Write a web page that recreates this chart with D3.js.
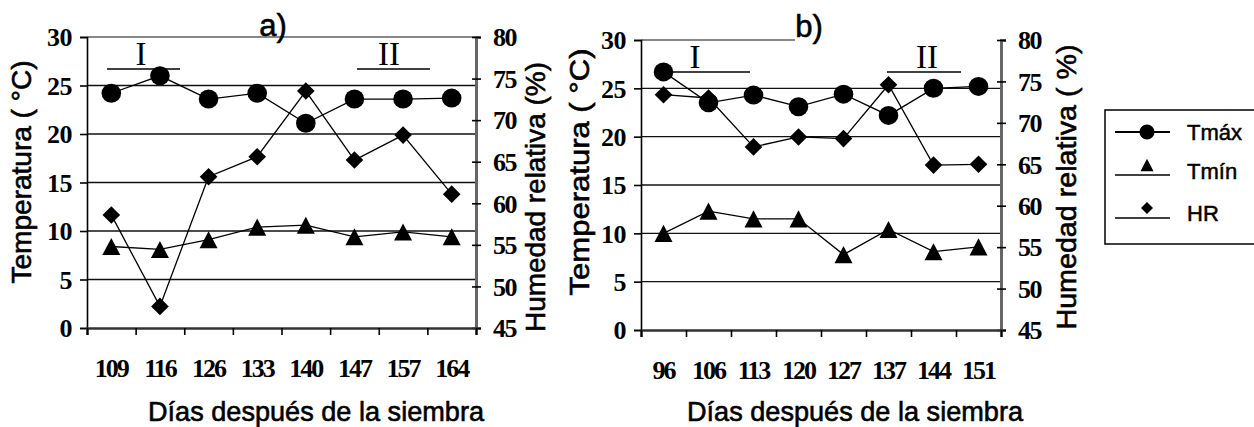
<!DOCTYPE html>
<html>
<head>
<meta charset="utf-8">
<script src="https://cdn.jsdelivr.net/npm/d3@7"></script>
<style>
  body { margin: 0; background: #fff; }
  svg { display: block; }
</style>
</head>
<body>
<div id="chart"></div>
<script>
// data
var daysA = ["109", "116", "126", "133", "140", "147", "157", "164"]
var tmaxA = [24.2, 26.0, 23.6, 24.2, 21.1, 23.6, 23.6, 23.7]
var tminA = [8.4, 8.1, 9.1, 10.4, 10.6, 9.4, 9.9, 9.4]
var hrA = [58.6, 47.6, 63.2, 65.6, 73.5, 65.2, 68.2, 61.1]

var daysB = ["96", "106", "113", "120", "127", "137", "144", "151"]
var tmaxB = [26.7, 23.5, 24.3, 23.1, 24.4, 22.2, 25.0, 25.2]
var tminB = [10.0, 12.3, 11.5, 11.5, 7.8, 10.4, 8.1, 8.6]
var hrB = [73.4, 73.0, 67.1, 68.3, 68.1, 74.6, 64.9, 65.0]

var tempTicks = [0, 5, 10, 15, 20, 25, 30]
var hrTicks = [45, 50, 55, 60, 65, 70, 75, 80]
var legendNames = ["Tmáx", "Tmín", "HR"]

var W = 1254, H = 427
var serif = "'Liberation Serif', 'Times New Roman', serif"
var sans = "'Liberation Sans', Arial, sans-serif"

var svg = d3.select("#chart").append("svg")
  .attr("width", W)
  .attr("height", H)

function diamond(r) {
  return "M0," + (-r) + "L" + r + ",0L0," + r + "L" + (-r) + ",0Z"
}
function triangle(s) {
  var h = s * 0.95
  return "M0," + (-h / 2) + "L" + (s / 2) + "," + (h / 2) + "L" + (-s / 2) + "," + (h / 2) + "Z"
}
// heavier look of the scanned sans text
function heavy(sel) {
  return sel.attr("stroke", "#000").attr("stroke-width", 0.6)
}

function drawPanel(p) {
  var g = svg.append("g")

  var x = d3.scaleBand().domain(p.cats).range([p.left, p.right])
  var xIdx = d3.scaleLinear().domain([0, p.cats.length]).range([p.left, p.right])
  var yT = d3.scaleLinear().domain([0, 30]).range([p.bottom, p.top])
  var yH = d3.scaleLinear().domain([45, 80]).range([p.bottom, p.top])
  var cx = function(d, i) { return x(p.cats[i]) + x.bandwidth() / 2 }

  // gridlines
  g.selectAll(".grid")
    .data(tempTicks.filter(function(t) { return t > 0 && t < 30 }))
    .enter().append("line")
    .attr("x1", p.left).attr("x2", p.right)
    .attr("y1", function(d) { return yT(d) }).attr("y2", function(d) { return yT(d) })
    .attr("stroke", "#111").attr("stroke-width", 1.4)

  // top border
  g.append("line")
    .attr("x1", p.left).attr("x2", p.topEnd)
    .attr("y1", p.top).attr("y2", p.top)
    .attr("stroke", "#111").attr("stroke-width", 1.2)

  // left axis
  var axL = g.append("g")
    .attr("transform", "translate(" + p.left + ",0)")
    .call(d3.axisLeft(yT).tickValues(tempTicks).tickSize(7).tickPadding(8))
  axL.select(".domain").attr("stroke-width", 1.6)
  axL.selectAll("line").attr("stroke-width", 1.6)
  axL.selectAll("text")
    .attr("font-family", serif).attr("font-weight", "bold")
    .attr("font-size", 26).attr("fill", "#000")
    .attr("letter-spacing", -0.5)
    .attr("dy", "0.34em")

  // right axis, ticks crossing
  var axR = g.append("g")
    .attr("transform", "translate(" + p.right + ",0)")
    .call(d3.axisRight(yH).tickValues(hrTicks).tickSize(5).tickPadding(12))
  axR.select(".domain").attr("stroke", "#666").attr("stroke-width", 3)
  axR.selectAll(".tick line").attr("x1", -4).attr("stroke-width", 1.6)
  axR.selectAll("text")
    .attr("font-family", serif).attr("font-weight", "bold")
    .attr("font-size", 26).attr("fill", "#000")
    .attr("letter-spacing", -1.5)
    .attr("dy", "0.34em")

  // bottom axis: ticks at band edges
  var axB = g.append("g")
    .attr("transform", "translate(0," + p.bottom + ")")
    .call(d3.axisBottom(xIdx).tickValues(d3.range(p.cats.length + 1)).tickSize(7).tickFormat(""))
  axB.select(".domain").attr("stroke", "#333").attr("stroke-width", 2.5)
  axB.selectAll("line").attr("stroke-width", 1.6)

  // category labels
  var axC = g.append("g")
    .attr("transform", "translate(0," + (p.bottom + 31) + ")")
    .call(d3.axisBottom(x).tickSize(0).tickPadding(0))
  axC.select(".domain").remove()
  axC.selectAll("text")
    .attr("font-family", serif).attr("font-weight", "bold")
    .attr("font-size", 26).attr("fill", "#000")
    .attr("letter-spacing", -2)

  // axis titles
  heavy(g.append("text")
    .attr("transform", "translate(" + p.yLabelX + "," + p.yLabelY + ") rotate(-90)")
    .attr("text-anchor", "middle")
    .attr("font-family", sans).attr("font-size", 28)
    .attr("textLength", p.yLabelLen).attr("lengthAdjust", "spacingAndGlyphs")
    .text(p.yLabel))
  heavy(g.append("text")
    .attr("transform", "translate(" + p.y2LabelX + "," + p.y2LabelY + ") rotate(-90)")
    .attr("text-anchor", "middle")
    .attr("font-family", sans).attr("font-size", 28)
    .attr("textLength", p.y2LabelLen).attr("lengthAdjust", "spacingAndGlyphs")
    .text(p.y2Label))
  heavy(g.append("text")
    .attr("x", p.xLabelX).attr("y", 421)
    .attr("text-anchor", "middle")
    .attr("font-family", sans).attr("font-size", 28)
    .attr("textLength", 336).attr("lengthAdjust", "spacingAndGlyphs")
    .text("Días después de la siembra"))

  // panel title
  heavy(g.append("text")
    .attr("x", p.titleX).attr("y", p.titleY)
    .attr("text-anchor", "middle")
    .attr("font-family", sans).attr("font-size", 31)
    .text(p.title))

  // period marks I and II
  p.periods.forEach(function(m) {
    g.append("line")
      .attr("x1", m.x1).attr("x2", m.x2)
      .attr("y1", m.y).attr("y2", m.y)
      .attr("stroke", "#000").attr("stroke-width", 1.6)
    g.append("text")
      .attr("x", m.tx).attr("y", m.y - 4)
      .attr("text-anchor", "middle")
      .attr("font-family", serif).attr("font-size", 33)
      .text(m.label)
  })

  var line = function(ys) {
    return d3.line()
      .x(function(d, i) { return cx(d, i) })
      .y(function(d) { return ys(d) })
  }

  // HR (secondary axis)
  g.append("path").datum(p.hr)
    .attr("d", line(yH)).attr("fill", "none")
    .attr("stroke", "#000").attr("stroke-width", 1.3)
  g.selectAll(".hr").data(p.hr).enter().append("path")
    .attr("transform", function(d, i) { return "translate(" + cx(d, i) + "," + yH(d) + ")" })
    .attr("d", diamond(8.8))

  // Tmin
  g.append("path").datum(p.tmin)
    .attr("d", line(yT)).attr("fill", "none")
    .attr("stroke", "#000").attr("stroke-width", 1.3)
  g.selectAll(".tmin").data(p.tmin).enter().append("path")
    .attr("transform", function(d, i) { return "translate(" + cx(d, i) + "," + yT(d) + ")" })
    .attr("d", triangle(18))

  // Tmax
  g.append("path").datum(p.tmax)
    .attr("d", line(yT)).attr("fill", "none")
    .attr("stroke", "#000").attr("stroke-width", 1.3)
  g.selectAll(".tmax").data(p.tmax).enter().append("ellipse")
    .attr("cx", cx).attr("cy", function(d) { return yT(d) })
    .attr("rx", 9.8).attr("ry", 9.5)
}

drawPanel({
  cats: daysA, tmax: tmaxA, tmin: tminA, hr: hrA,
  left: 87, right: 476, top: 37, bottom: 328, topEnd: 476,
  title: "a)", titleX: 273, titleY: 36,
  yLabel: "Temperatura ( °C)", yLabelX: 31, yLabelY: 172, yLabelLen: 223,
  y2Label: "Humedad relativa (%)", y2LabelX: 545, y2LabelY: 197, y2LabelLen: 270,
  xLabelX: 316,
  periods: [
    { label: "I", x1: 107, x2: 180, y: 69, tx: 141 },
    { label: "II", x1: 357, x2: 430, y: 69, tx: 389 }
  ]
})

drawPanel({
  cats: daysB, tmax: tmaxB, tmin: tminB, hr: hrB,
  left: 641, right: 1001, top: 40, bottom: 330, topEnd: 795,
  title: "b)", titleX: 809, titleY: 37,
  yLabel: "Temperatura (  °C)", yLabelX: 589, yLabelY: 172, yLabelLen: 247,
  y2Label: "Humedad relativa ( %)", y2LabelX: 1076, y2LabelY: 187, y2LabelLen: 285,
  xLabelX: 855,
  periods: [
    { label: "I", x1: 672, x2: 750, y: 72, tx: 695 },
    { label: "II", x1: 887, x2: 961, y: 72, tx: 927 }
  ]
})

// legend
var leg = svg.append("g")
leg.append("rect")
  .attr("x", 1105).attr("y", 110)
  .attr("width", 160).attr("height", 134)
  .attr("fill", "#fff").attr("stroke", "#000").attr("stroke-width", 1.5)

var legY = [132, 175, 218]
var legMarkY = [132, 165, 208]
legendNames.forEach(function(name, i) {
  leg.append("line")
    .attr("x1", 1115).attr("x2", 1170)
    .attr("y1", legY[i]).attr("y2", legY[i])
    .attr("stroke", "#000").attr("stroke-width", i === 0 ? 2.2 : 1.6)
  var m = leg.append("path")
    .attr("transform", "translate(1147," + legMarkY[i] + ")")
  if (i === 0) m.attr("d", d3.symbol(d3.symbolCircle, 180)())
  else if (i === 1) m.attr("d", triangle(13))
  else m.attr("d", diamond(6))
  heavy(leg.append("text")
    .attr("x", 1187).attr("y", [132, 171, 213][i])
    .attr("dy", "0.36em")
    .attr("font-family", sans)
    .attr("font-size", 22)
    .text(name)).attr("stroke-width", 0.5)
})
</script>
</body>
</html>
